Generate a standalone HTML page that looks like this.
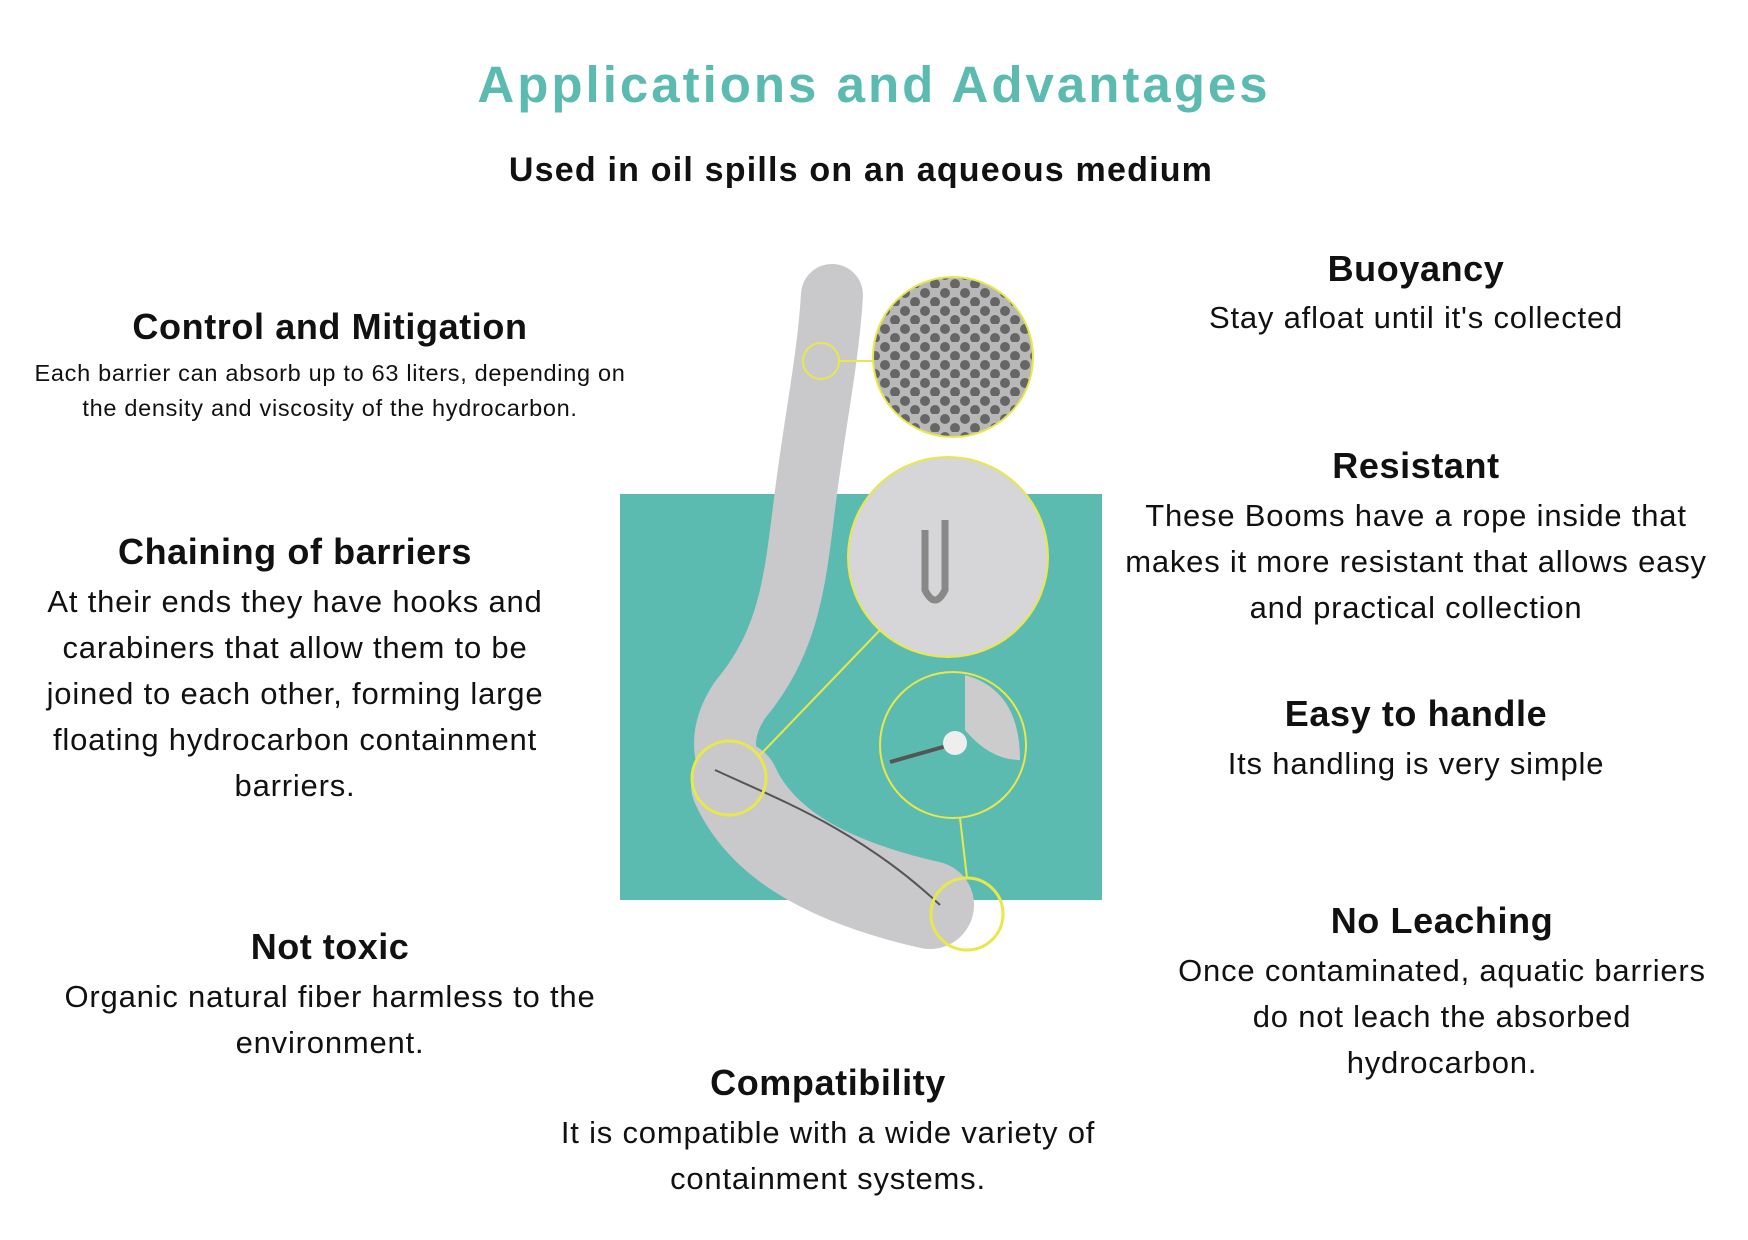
<!DOCTYPE html>
<html><head><style>
body{margin:0;width:1748px;height:1240px;background:#fff;position:relative;overflow:hidden;font-family:"Liberation Sans",sans-serif;color:#111}
.t{position:absolute;text-align:center;white-space:nowrap;transform:translateX(-50%)}
.h{font-weight:bold;font-size:36px;letter-spacing:0.6px}
.b{font-size:31px;letter-spacing:0.8px;line-height:46px}
</style></head><body>
<div class="t" style="left:874px;top:55px;font-size:51px;font-weight:bold;color:#5cbbb0;letter-spacing:3px">Applications and Advantages</div>
<div class="t" style="left:861px;top:151px;font-size:34px;font-weight:bold;letter-spacing:1.2px">Used in oil spills on an aqueous medium</div>

<div class="t h" style="left:330px;top:306px">Control and Mitigation</div>
<div class="t" style="left:330px;top:356px;font-size:23.5px;letter-spacing:0.7px;line-height:35px">Each barrier can absorb up to 63 liters, depending on<br>the density and viscosity of the hydrocarbon.</div>

<div class="t h" style="left:295px;top:531px">Chaining of barriers</div>
<div class="t b" style="left:295px;top:579px">At their ends they have hooks and<br>carabiners that allow them to be<br>joined to each other, forming large<br>floating hydrocarbon containment<br>barriers.</div>

<div class="t h" style="left:330px;top:926px;letter-spacing:0.5px">Not toxic</div>
<div class="t b" style="left:330px;top:974px">Organic natural fiber harmless to the<br>environment.</div>

<div class="t h" style="left:828px;top:1062px">Compatibility</div>
<div class="t b" style="left:828px;top:1110px">It is compatible with a wide variety of<br>containment systems.</div>

<div class="t h" style="left:1416px;top:248px">Buoyancy</div>
<div class="t b" style="left:1416px;top:295px">Stay afloat until it's collected</div>

<div class="t h" style="left:1416px;top:445px">Resistant</div>
<div class="t b" style="left:1416px;top:493px">These Booms have a rope inside that<br>makes it more resistant that allows easy<br>and practical collection</div>

<div class="t h" style="left:1416px;top:693px">Easy to handle</div>
<div class="t b" style="left:1416px;top:741px">Its handling is very simple</div>

<div class="t h" style="left:1442px;top:900px">No Leaching</div>
<div class="t b" style="left:1442px;top:948px">Once contaminated, aquatic barriers<br>do not leach the absorbed<br>hydrocarbon.</div>

<svg style="position:absolute;left:0;top:0" width="1748" height="1240">
<defs>
<pattern id="mesh" width="20" height="18" patternUnits="userSpaceOnUse">
<rect width="20" height="18" fill="#b8b8b8"/><circle cx="5" cy="5" r="5" fill="#666"/><circle cx="15" cy="14" r="5" fill="#666"/></pattern>
</defs>
<rect x="620" y="494" width="482" height="406" fill="#5cbbb0"/>
<path d="M832 295 C828 360 815 420 805 500 C795 580 790 640 740 700 C720 730 720 760 740 780" fill="none" stroke="#c9c9cb" stroke-width="62" stroke-linecap="round"/>
<path d="M735 785 C760 840 820 880 930 905" fill="none" stroke="#c9c9cb" stroke-width="88" stroke-linecap="round"/>
<path d="M715 770 C780 800 860 830 940 905" fill="none" stroke="#555" stroke-width="2"/>
<line x1="839" y1="361" x2="873" y2="361" stroke="#e8e84a" stroke-width="2"/>
<line x1="760" y1="755" x2="880" y2="630" stroke="#e8e84a" stroke-width="2"/>
<line x1="960" y1="818" x2="967" y2="878" stroke="#e8e84a" stroke-width="2"/>
<circle cx="953" cy="357" r="80" fill="url(#mesh)" stroke="#e8e84a" stroke-width="2"/>
<circle cx="948" cy="557" r="100" fill="#d6d6d8" stroke="#e8e84a" stroke-width="2"/>
<path d="M925 530 L925 590 Q935 610 945 590 L945 520" fill="none" stroke="#888" stroke-width="7"/>
<circle cx="953" cy="745" r="73" fill="#5cbbb0" stroke="#e8e84a" stroke-width="2"/>
<path d="M965 675 Q1020 690 1020 760 Q990 760 965 730 Z" fill="#ccc"/>
<line x1="890" y1="762" x2="950" y2="745" stroke="#555" stroke-width="4"/>
<circle cx="955" cy="743" r="12" fill="#eee"/>
<circle cx="821" cy="361" r="18" fill="none" stroke="#e8e84a" stroke-width="2"/>
<circle cx="729" cy="778" r="37" fill="none" stroke="#e8e84a" stroke-width="3"/>
<circle cx="967" cy="914" r="36" fill="none" stroke="#e8e84a" stroke-width="3"/>
</svg>
</body></html>
